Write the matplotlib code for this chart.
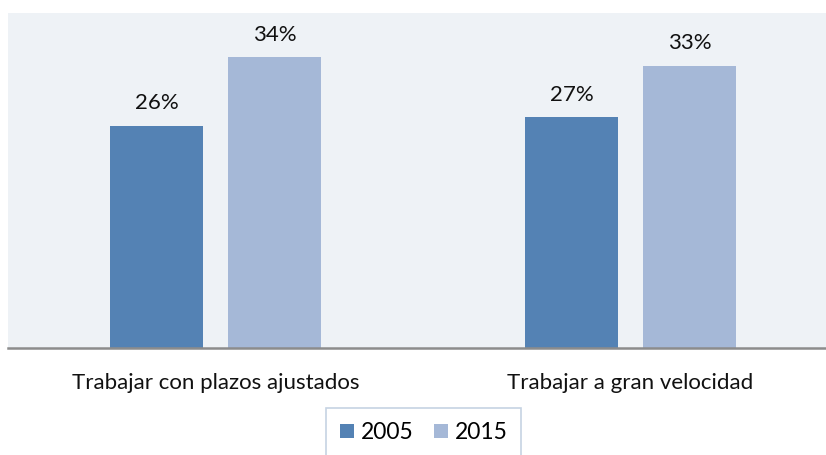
import matplotlib
matplotlib.use("Agg")
import matplotlib.pyplot as plt
import numpy as np
from matplotlib.patches import Patch

categories = ["Trabajar con plazos ajustados", "Trabajar a gran velocidad"]
series_names = ["2005", "2015"]
values_2005 = [26, 27]
values_2015 = [34, 33]
colors = ["#5482B4", "#A5B8D7"]

plt.rcParams['font.family'] = ['Lato', 'DejaVu Sans']

W, H = 826, 455
fig = plt.figure(figsize=(W / 100, H / 100), dpi=100)
ax = fig.add_axes([8 / W, (H - 348) / H, 830 / W, (348 - 13) / H])
ax.set_facecolor("#EEF2F6")

x = np.arange(len(categories))
bw = 0.224
off = 0.142
b1 = ax.bar(x - off, values_2005, bw, color=colors[0], label=series_names[0])
b2 = ax.bar(x + off, values_2015, bw, color=colors[1], label=series_names[1])
for b, vals in ((b1, values_2005), (b2, values_2015)):
    ax.bar_label(b, labels=[f"{v}%" for v in vals], padding=9, fontsize=16, color="#111111")

ax.set_xlim(-0.5, 1.5)
ax.set_ylim(0, 39.2)
ax.set_yticks([])
ax.set_xticks(x)
ax.set_xticklabels(categories, fontsize=16, color="#111111")
ax.tick_params(axis="x", length=0, pad=18)
for s in ("top", "left", "right"):
    ax.spines[s].set_visible(False)
ax.spines["bottom"].set_color("#8C8C8C")
ax.spines["bottom"].set_linewidth(1.8)

handles = [Patch(facecolor=c, edgecolor="none") for c in colors]
leg = fig.legend(handles, series_names, loc="upper left",
                 bbox_to_anchor=(326 / W, 1 - 408 / H), borderaxespad=0, ncol=2, fontsize=16.5,
                 frameon=True, fancybox=False, handlelength=0.6, handleheight=0.55,
                 handletextpad=0.28, columnspacing=0.92, borderpad=0.62)
leg.get_frame().set_edgecolor("#B8C8DC")
leg.get_frame().set_linewidth(1.2)

fig.savefig("out.png", dpi=100)
